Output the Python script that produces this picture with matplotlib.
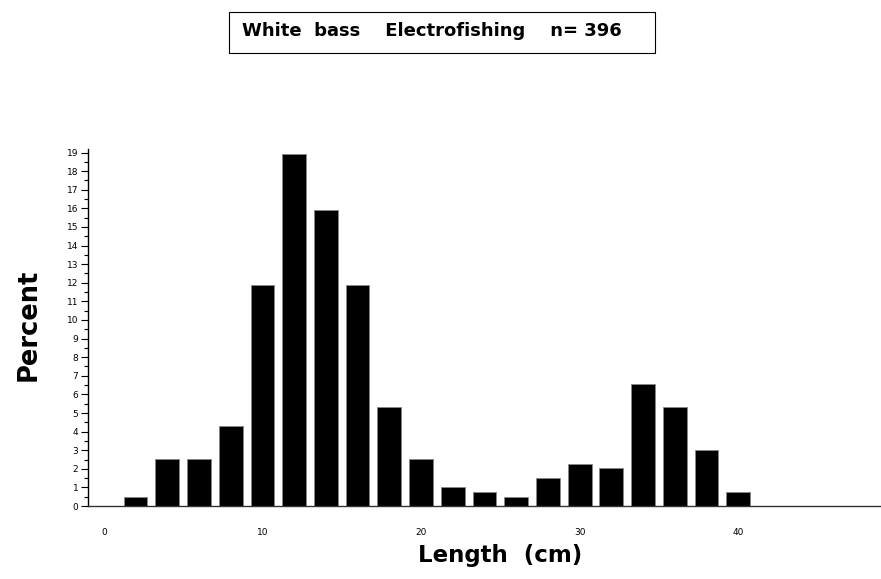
import matplotlib.pyplot as plt
from matplotlib.patches import Rectangle
from matplotlib.ticker import MultipleLocator

# length-frequency of white bass, 2 cm bins
length_mid = [2, 4, 6, 8, 10, 12, 14, 16, 18, 20, 22, 24, 26, 28, 30, 32, 34, 36, 38, 40]
percent = [0.51, 2.53, 2.53, 4.29, 11.87, 18.94, 15.91, 11.87, 5.30, 2.53,
           1.01, 0.76, 0.51, 1.52, 2.27, 2.02, 6.57, 5.30, 3.03, 0.76]
x_ticks = [0, 10, 20, 30, 40]
y_ticks = list(range(0, 20))
title_text = "White  bass    Electrofishing    n= 396"

plt.rcParams["font.family"] = ["DejaVu Sans"]

fig = plt.figure(figsize=(8.81, 5.79), dpi=100)
ax = fig.add_axes([0.0999, 0.126, 0.90, 0.617])

ax.bar(length_mid, percent, width=1.5, color="black", edgecolor="#888888", linewidth=0.6)

ax.set_xlim(-1, 49)
ax.set_ylim(0, 19.2)
ax.spines["top"].set_visible(False)
ax.spines["right"].set_visible(False)
ax.spines["left"].set_linewidth(1.0)
ax.spines["bottom"].set_linewidth(1.0)
ax.spines["bottom"].set_color("#333333")

ax.set_yticks(y_ticks)
ax.yaxis.set_minor_locator(MultipleLocator(0.5))
ax.tick_params(axis="y", which="major", length=5, width=0.8, labelsize=6.5, pad=2)
ax.tick_params(axis="y", which="minor", length=3, width=0.8)
ax.set_xticks(x_ticks)
ax.tick_params(axis="x", length=0, labelsize=6.5, pad=15.5)

ax.set_ylabel("Percent", fontsize=18.5, fontweight="bold")
ax.yaxis.set_label_coords(-0.058, 0.506)
ax.set_xlabel("Length  (cm)", fontsize=16.5, fontweight="bold")
ax.xaxis.set_label_coords(0.52, -0.105)

# title box
fig.patches.append(Rectangle((0.260, 0.9085), 0.484, 0.0708, transform=fig.transFigure,
                             facecolor="white", edgecolor="black", linewidth=0.8))
fig.text(0.4898, 0.946, title_text, ha="center", va="center", fontsize=13, fontweight="bold")

fig.savefig("out.png", dpi=100)
